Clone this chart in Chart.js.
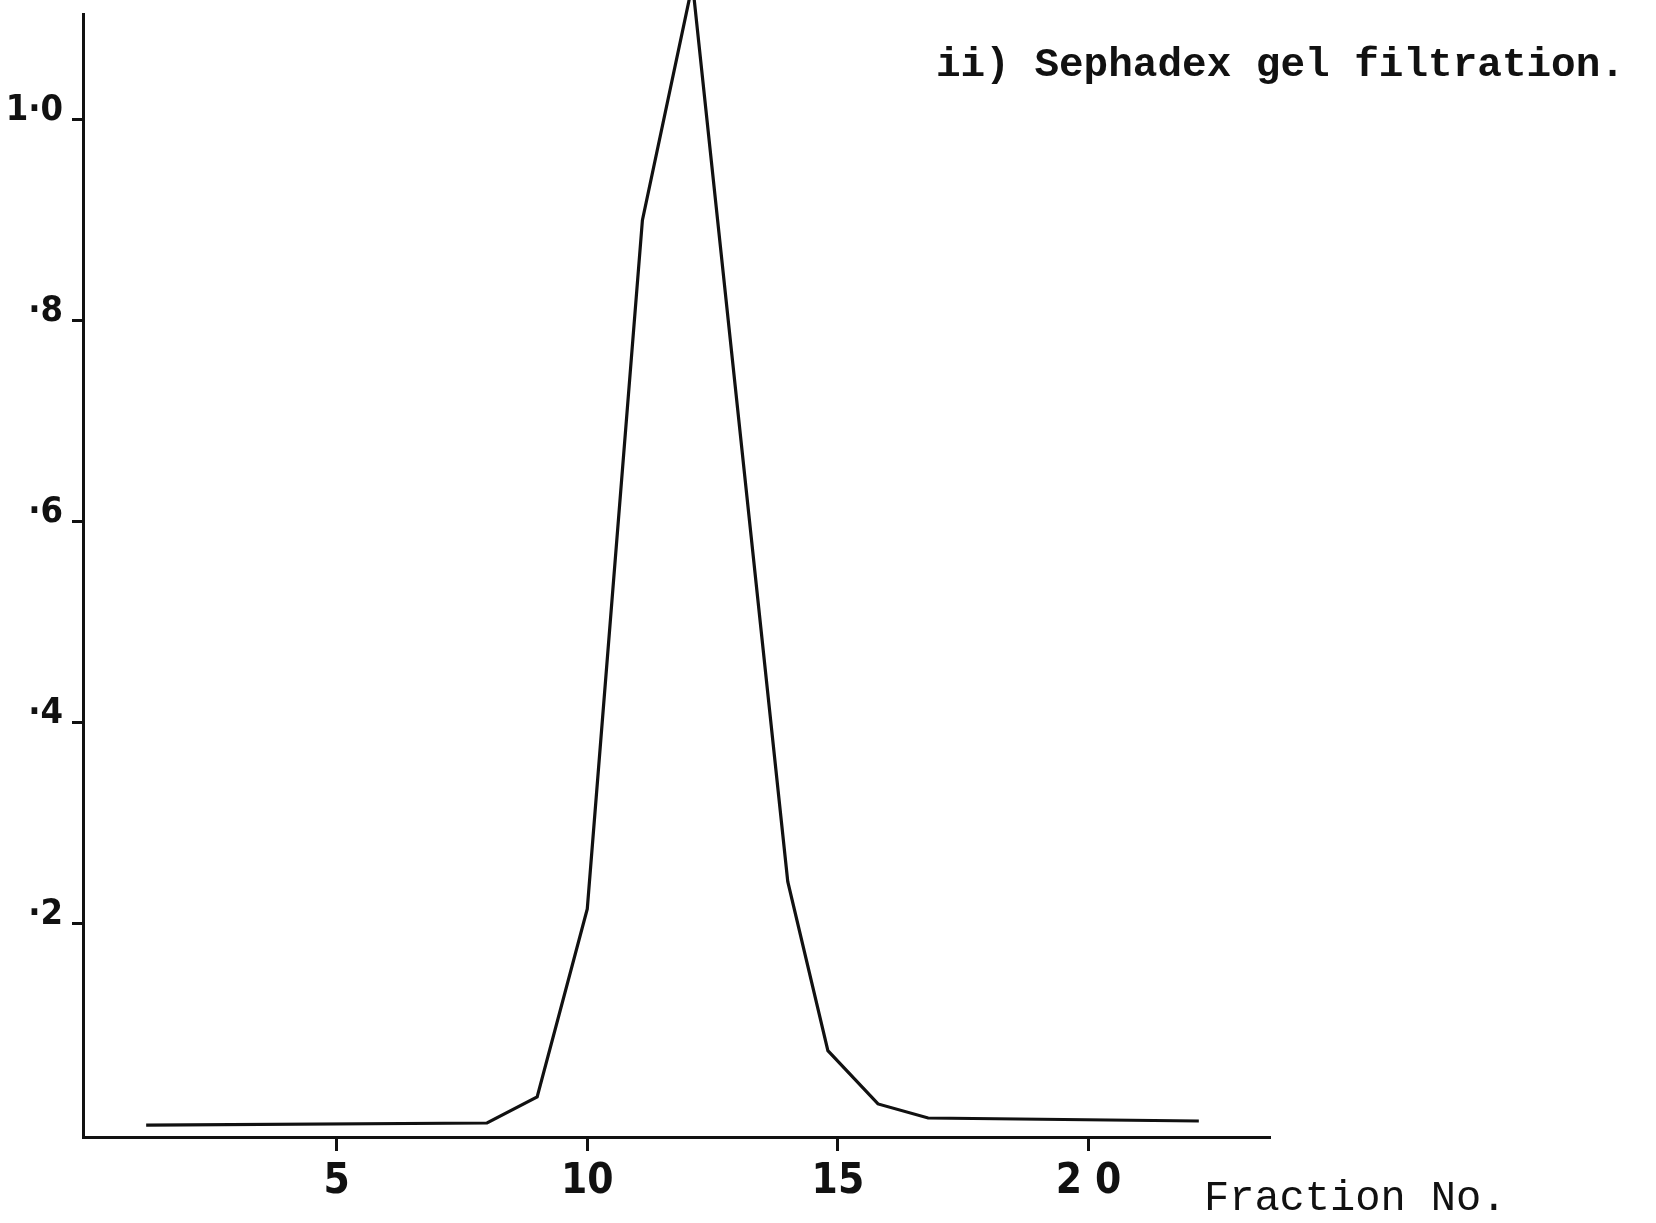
<!DOCTYPE html>
<html lang="en">
<head>
  <meta charset="UTF-8" />
  <title>Sephadex gel filtration</title>
  <script src="https://cdn.jsdelivr.net/npm/chart.js@4.4.1/dist/chart.umd.min.js"></script>
  <style>
    body {
      margin: 0;
      background: #fff;
    }
    .wrap {
      position: relative;
      width: 1656px;
      height: 1223px;
      overflow: hidden;
    }
    .label {
      position: absolute;
      font-family: "Liberation Mono", "DejaVu Sans Mono", monospace;
      font-size: 41px;
      line-height: 42px;
      color: #111;
      white-space: pre;
    }
    #title { left: 936px; top: 44px; font-weight: bold; }
    #xlabel { left: 1204px; top: 1178px; font-size: 42px; }
  </style>
</head>
<body>
  <div class="wrap">
    <canvas id="chart" width="1656" height="1223"></canvas>
    <div class="label" id="title">ii) Sephadex gel filtration.</div>
    <div class="label" id="xlabel">Fraction No.</div>
  </div>

  <script>
    // values
    const fractionNo = [1.2, 8.0, 9.0, 10.0, 11.1, 12.1, 14.0, 14.8, 15.8, 16.8, 22.2];
    const absorbance = [0.0, 0.002, 0.028, 0.215, 0.90, 1.135, 0.242, 0.074, 0.021, 0.007, 0.004];

    const xTickValues = [5, 10, 15, 20];
    const xTickLabels = ['5', '10', '15', '2 0'];
    const yTickValues = [0.2, 0.4, 0.6, 0.8, 1.0];
    const yTickLabels = ['·2', '·4', '·6', '·8', '1·0'];

    const ink = '#111';
    const tickFont = '"Liberation Sans Narrow", "DejaVu Sans Condensed", "Liberation Sans", sans-serif';

    const points = fractionNo.map((x, i) => ({ x: x, y: absorbance[i] }));

    // keep the plot box fixed, labels are nowhere near the axis ends
    function noPad(s) {
      s.paddingTop = 0;
      s.paddingBottom = 0;
      s.paddingLeft = 0;
      s.paddingRight = 0;
    }

    new Chart(document.getElementById('chart'), {
      type: 'line',
      data: {
        datasets: [{
          data: points,
          borderColor: ink,
          borderWidth: 3.2,
          pointRadius: 0,
          pointHoverRadius: 0,
          tension: 0,
          clip: false
        }]
      },
      options: {
        responsive: false,
        animation: false,
        layout: { autoPadding: false, padding: { top: 14, right: 386, left: 0, bottom: 0 } },
        plugins: {
          legend: { display: false },
          tooltip: { enabled: false }
        },
        scales: {
          x: {
            type: 'linear',
            min: -0.06,
            max: 23.62,
            afterFit: s => { s.height = 86; noPad(s); },
            afterBuildTicks: s => { s.ticks = xTickValues.map(v => ({ value: v })); },
            border: { display: true, color: ink, width: 3 },
            grid: { drawOnChartArea: false, drawTicks: true, tickLength: 14, tickWidth: 3, tickColor: ink },
            ticks: {
              color: ink,
              padding: 6,
              maxRotation: 0,
              font: { family: tickFont, size: 42, weight: 'bold' },
              callback: (v, i) => xTickLabels[i]
            }
          },
          y: {
            min: -0.0119,
            max: 1.105,
            afterFit: s => { s.width = 83; noPad(s); },
            afterBuildTicks: s => { s.ticks = yTickValues.map(v => ({ value: v })); },
            border: { display: true, color: ink, width: 3 },
            grid: { drawOnChartArea: false, drawTicks: true, tickLength: 11, tickWidth: 3, tickColor: ink },
            ticks: {
              color: ink,
              padding: 9,
              labelOffset: -9,
              font: { family: tickFont, size: 36, weight: 'bold' },
              callback: (v, i) => yTickLabels[i]
            }
          }
        }
      }
    });
  </script>
</body>
</html>
